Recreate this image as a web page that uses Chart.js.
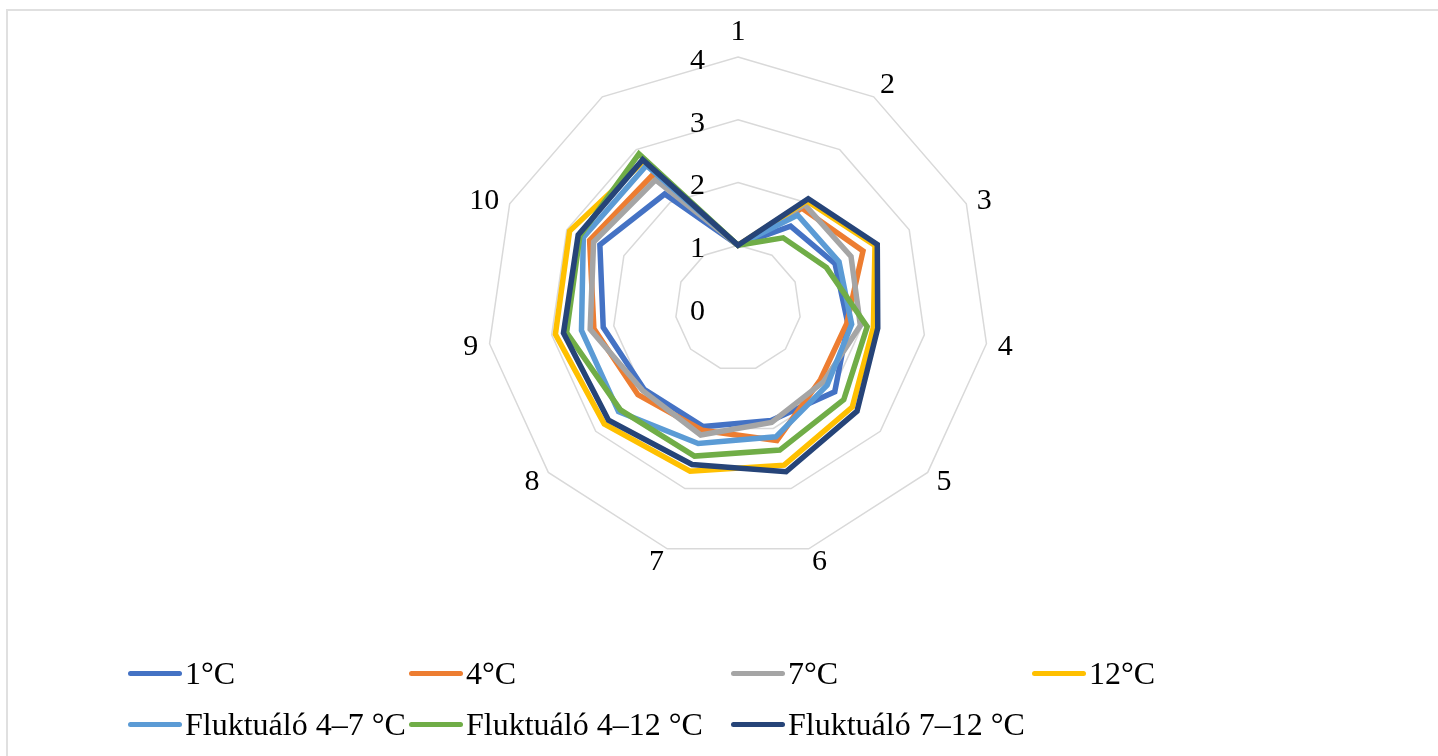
<!DOCTYPE html>
<html>
<head>
<meta charset="utf-8">
<script src="https://cdn.jsdelivr.net/npm/chart.js@4"></script>
<style>
  html, body { margin: 0; padding: 0; background: #fff; width: 1438px; height: 756px; overflow: hidden; }
  body { font-family: "Liberation Serif", "Times New Roman", serif; color: #000; }
  #frame { position: absolute; left: 6px; top: 9px; width: 1500px; height: 800px; border: 2px solid #e0e0e0; box-sizing: border-box; }
  #wrap { position: absolute; left: 0; top: 0; width: 1438px; height: 756px; }
  .lg { position: absolute; display: flex; align-items: center; font-size: 32px; line-height: 1; white-space: nowrap; }
  .lg i { display: inline-block; width: 54px; height: 5px; border-radius: 3px; margin-right: 3px; }
</style>
</head>
<body>
<div id="frame"></div>
<div id="wrap"><canvas id="c"></canvas></div>
<div id="legend"></div>
<script>
// Spoke labels (the last spoke carries no label)
const categories = ['1', '2', '3', '4', '5', '6', '7', '8', '9', '10', ''];
const tickValues = [0, 1, 2, 3, 4];

const seriesNames = ['1°C', '4°C', '7°C', '12°C', 'Fluktuáló 4–7 °C', 'Fluktuáló 4–12 °C', 'Fluktuáló 7–12 °C'];
const seriesColors = ['#4472C4', '#ED7D31', '#A5A5A5', '#FFC000', '#5B9BD5', '#70AD47', '#264478'];

const t1 = [1, 1.55, 1.70, 1.77, 2.04, 1.87, 1.97, 1.98, 2.17, 2.42, 2.16];
const t4 = [1, 1.89, 2.19, 1.75, 1.74, 2.20, 2.03, 2.11, 2.32, 2.60, 2.52];
const t7 = [1, 1.96, 1.98, 1.97, 1.80, 1.90, 2.11, 2.01, 2.38, 2.53, 2.43];
const t12 = [1, 2.03, 2.40, 2.18, 2.41, 2.61, 2.71, 2.82, 2.94, 2.95, 2.78];
const fl4to7 = [1, 1.76, 1.77, 1.83, 1.88, 2.14, 2.25, 2.52, 2.52, 2.71, 2.70];
const fl4to12 = [1, 1.33, 1.55, 2.08, 2.23, 2.36, 2.46, 2.48, 2.76, 2.77, 2.92];
const fl7to12 = [1, 2.07, 2.44, 2.25, 2.51, 2.72, 2.60, 2.73, 2.81, 2.80, 2.81];

const seriesValues = [t1, t4, t7, t12, fl4to7, fl4to12, fl7to12];

// Legend grid: column x of each entry, row y centre
const legendX = [128, 409, 731, 1032, 128, 409, 731];
const legendY = [673, 673, 673, 673, 724, 724, 724];

const SERIF = '"Liberation Serif", "Times New Roman", serif';
const LABEL_PX = 30;

// Ring values, written just left of the vertical spoke
const axisValueLabels = {
  id: 'axisValueLabels',
  afterDraw(chart) {
    const s = chart.scales.r;
    const ctx = chart.ctx;
    ctx.save();
    ctx.font = LABEL_PX + 'px ' + SERIF;
    ctx.fillStyle = '#000';
    ctx.textAlign = 'right';
    ctx.textBaseline = 'alphabetic';
    tickValues.forEach(v => {
      const y = s.yCenter - s.getDistanceFromCenterForValue(v) + 2;
      ctx.fillText(String(v), s.xCenter - 33, y + 0.33 * LABEL_PX);
    });
    ctx.restore();
  }
};

// Category names placed just outside the outer ring, beside each spoke tip
const spokeLabels = {
  id: 'spokeLabels',
  afterDraw(chart) {
    const s = chart.scales.r;
    const ctx = chart.ctx;
    const R = s.drawingArea;
    ctx.save();
    ctx.font = LABEL_PX + 'px ' + SERIF;
    ctx.fillStyle = '#000';
    ctx.textAlign = 'center';
    ctx.textBaseline = 'alphabetic';
    chart.data.labels.forEach((lab, i) => {
      if (!lab) return;
      const tip = s.getPointPosition(i, R);
      const ux = (tip.x - s.xCenter) / R;
      const uy = (tip.y - s.yCenter) / R;
      const hw = ctx.measureText(lab).width / 2;
      const sx = Math.abs(ux) < 0.1 ? 0 : Math.sign(ux);
      const cx = tip.x + ux * 11.5 + sx * hw;
      const cy = tip.y + uy * (12 + 15 * Math.pow(Math.max(0, -uy), 8));
      ctx.fillText(lab, cx, cy + 0.33 * LABEL_PX);
    });
    ctx.restore();
  }
};

const datasets = seriesNames.map((name, i) => ({
  label: name,
  data: seriesValues[i],
  borderColor: seriesColors[i],
  backgroundColor: seriesColors[i],
  borderWidth: 5.5,
  borderJoinStyle: 'miter',
  pointRadius: 0,
  fill: false,
  order: seriesNames.length - i
}));

const chart = new Chart(document.getElementById('c'), {
  type: 'radar',
  data: { labels: categories, datasets },
  options: {
    responsive: true,
    maintainAspectRatio: false,
    animation: false,
    layout: { padding: { top: 57, bottom: 197, left: 487, right: 449 } },
    plugins: { legend: { display: false }, tooltip: { enabled: false } },
    scales: {
      r: {
        min: 0,
        max: 4,
        ticks: { stepSize: 1, display: false },
        grid: { color: '#d9d9d9', lineWidth: 1.5 },
        angleLines: { display: false },
        pointLabels: { display: false }
      }
    }
  },
  plugins: [axisValueLabels, spokeLabels]
});

// Legend entries laid out on a fixed grid below the plot
const legend = document.getElementById('legend');
chart.data.datasets.forEach((ds, i) => {
  const el = document.createElement('div');
  el.className = 'lg';
  el.style.left = legendX[i] + 'px';
  el.style.top = (legendY[i] - 16) + 'px';
  el.style.height = '32px';
  const sw = document.createElement('i');
  sw.style.background = ds.borderColor;
  el.appendChild(sw);
  el.appendChild(document.createTextNode(ds.label));
  legend.appendChild(el);
});
</script>
</body>
</html>
